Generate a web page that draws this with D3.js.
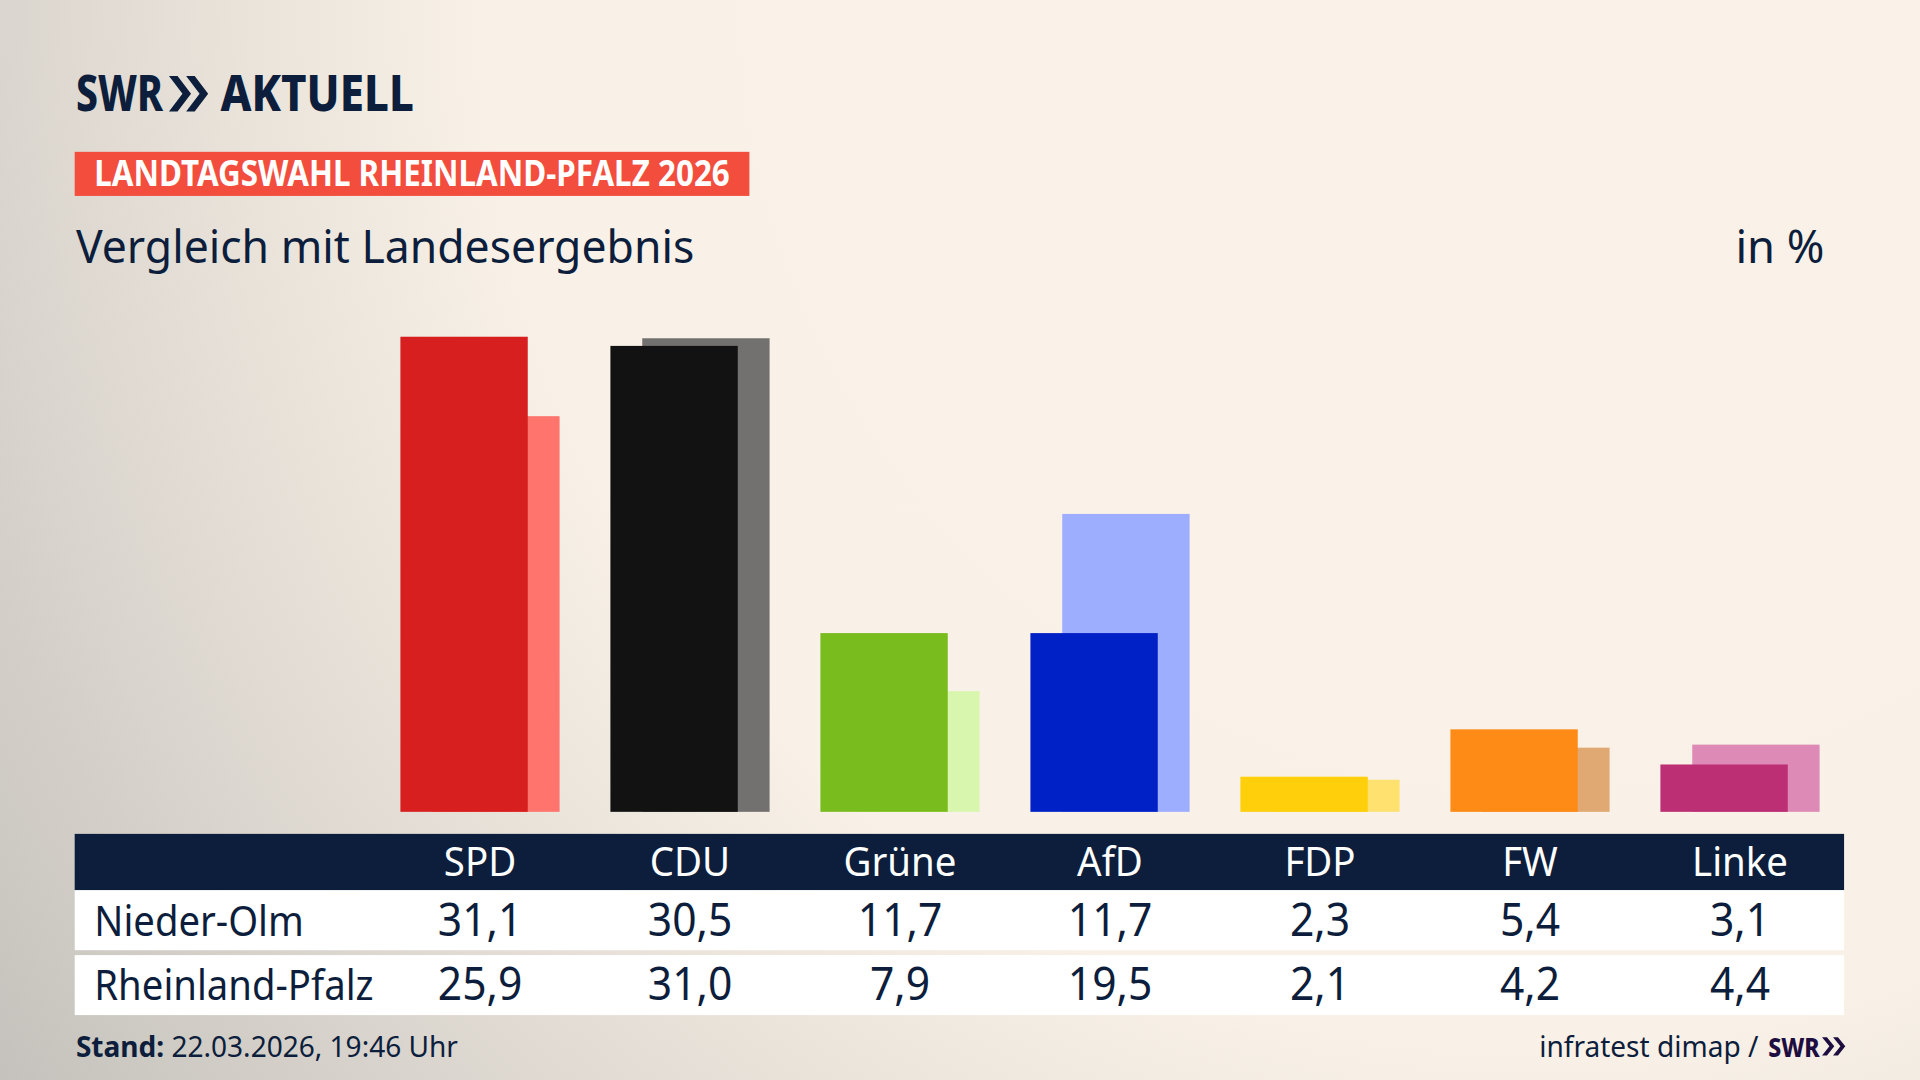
<!DOCTYPE html>
<html>
<head>
<meta charset="utf-8">
<script src="https://cdn.jsdelivr.net/npm/d3@7"></script>
<style>
  html, body { margin: 0; padding: 0; background: #f7efe5; }
  svg { display: block; }
  text { font-family: "Noto Sans", "Open Sans", sans-serif; }
</style>
</head>
<body>
<script>
// values from the graphic (Landtagswahl RLP 2026, Nieder-Olm vs. Land)
var parties = ["SPD", "CDU", "Grüne", "AfD", "FDP", "FW", "Linke"];
var niederOlm = [31.1, 30.5, 11.7, 11.7, 2.3, 5.4, 3.1];
var landRLP = [25.9, 31.0, 7.9, 19.5, 2.1, 4.2, 4.4];
var rowLabels = ["Nieder-Olm", "Rheinland-Pfalz"];
var mainColors = ["#d71f1f", "#121212", "#79bc1d", "#0021c6", "#ffcf0b", "#ff8b17", "#bc2f74"];
var lightColors = ["#ff756e", "#72716f", "#d8f6ae", "#9dadff", "#ffe170", "#e0a974", "#de8ab6"];

var navy = "#0c1e3c";
var W = 1568, H = 882;   // drawing units, scaled to the 1920x1080 window

var svg = d3.select("body").append("svg")
  .attr("width", 1920).attr("height", 1080)
  .attr("viewBox", "0 0 " + W + " " + H);

// background
var defs = svg.append("defs");
var grad = defs.append("radialGradient")
  .attr("id", "bg").attr("gradientUnits", "userSpaceOnUse")
  .attr("cx", 1250).attr("cy", 0).attr("r", 1550);
grad.append("stop").attr("offset", 0).attr("stop-color", "#faf2e8");
grad.append("stop").attr("offset", 0.55).attr("stop-color", "#f9f1e7");
grad.append("stop").attr("offset", 1).attr("stop-color", "#c3c0bb");
svg.append("rect").attr("width", W).attr("height", H).attr("fill", "url(#bg)");

var fmt = d3.formatLocale({decimal: ",", thousands: ".", grouping: [3], currency: ["", "€"]}).format(".1f");

// text helper: horizontally condensed real text
function label(g, x, y, str, size, opts) {
  opts = opts || {};
  var sx = opts.sx || 0.88;
  return g.append("text")
    .attr("transform", "translate(" + x + "," + y + ") scale(" + sx + ",1)")
    .attr("text-anchor", opts.anchor || "start")
    .attr("font-size", size)
    .attr("font-weight", opts.weight || 400)
    .attr("fill", opts.fill || navy)
    .text(str);
}

function chevrons(g, x0, y0, h, w, t, fill) {
  [0, w + 3].forEach(function (dx) {
    var x = x0 + dx;
    g.append("path")
      .attr("d", "M" + x + "," + y0 + "L" + (x + t) + "," + y0 + "L" + (x + t + w) + "," + (y0 + h / 2) +
        "L" + (x + t) + "," + (y0 + h) + "L" + x + "," + (y0 + h) + "L" + (x + w) + "," + (y0 + h / 2) + "Z")
      .attr("fill", fill);
  });
}

// header
var head = svg.append("g");
head.append("text").attr("x", 62).attr("y", 91).attr("font-size", 41).attr("font-weight", 800)
  .attr("fill", navy).attr("textLength", 71).attr("lengthAdjust", "spacingAndGlyphs").text("SWR");
chevrons(head, 138, 62, 29, 11, 7, navy);
head.append("text").attr("x", 180).attr("y", 91).attr("font-size", 41).attr("font-weight", 800)
  .attr("fill", navy).attr("textLength", 158).attr("lengthAdjust", "spacingAndGlyphs").text("AKTUELL");

head.append("rect").attr("x", 61).attr("y", 124).attr("width", 551).attr("height", 36).attr("fill", "#f24d3d");
head.append("text").attr("x", 77).attr("y", 152).attr("font-size", 29).attr("font-weight", 700)
  .attr("fill", "#ffffff").attr("textLength", 519).attr("lengthAdjust", "spacingAndGlyphs")
  .text("LANDTAGSWAHL RHEINLAND-PFALZ 2026");

head.append("text").attr("x", 62).attr("y", 215).attr("font-size", 37)
  .attr("fill", navy).attr("textLength", 505).attr("lengthAdjust", "spacingAndGlyphs")
  .text("Vergleich mit Landesergebnis");
head.append("text").attr("x", 1490).attr("y", 215).attr("font-size", 37).attr("text-anchor", "end")
  .attr("fill", navy).text("in %");

// scales
var x = d3.scaleBand().domain(parties).range([306.25, 1506.75]).padding(0);
var y = d3.scaleLinear().domain([0, 31.1]).range([663, 275]);
var barW = 104, shift = 26;
function cx(p) { return x(p) + x.bandwidth() / 2; }

var rows = parties.map(function (p, i) {
  return {party: p, local: niederOlm[i], land: landRLP[i], c: mainColors[i], lc: lightColors[i]};
});

var bars = svg.append("g");
bars.selectAll("rect.land").data(rows).join("rect").attr("class", "land")
  .attr("x", function (d) { return cx(d.party) - barW / 2 + shift / 2; })
  .attr("y", function (d) { return y(d.land); })
  .attr("width", barW)
  .attr("height", function (d) { return y(0) - y(d.land); })
  .attr("fill", function (d) { return d.lc; });
bars.selectAll("rect.local").data(rows).join("rect").attr("class", "local")
  .attr("x", function (d) { return cx(d.party) - barW / 2 - shift / 2; })
  .attr("y", function (d) { return y(d.local); })
  .attr("width", barW)
  .attr("height", function (d) { return y(0) - y(d.local); })
  .attr("fill", function (d) { return d.c; });

// table
var tbl = svg.append("g");
tbl.append("rect").attr("x", 61).attr("y", 681).attr("width", 1445).attr("height", 46).attr("fill", navy);
tbl.append("rect").attr("x", 61).attr("y", 727).attr("width", 1445).attr("height", 49).attr("fill", "#ffffff");
tbl.append("rect").attr("x", 61).attr("y", 780).attr("width", 1445).attr("height", 49).attr("fill", "#ffffff");

parties.forEach(function (p) {
  label(tbl, cx(p), 715, p, 32, {anchor: "middle", fill: "#ffffff", sx: 0.98});
});
var series = [niederOlm, landRLP];
var baselines = [764, 817];
series.forEach(function (vals, r) {
  label(tbl, 77, baselines[r], rowLabels[r], 34, {sx: 0.92});
  vals.forEach(function (v, i) {
    label(tbl, cx(parties[i]), baselines[r], fmt(v), 37, {anchor: "middle", sx: 0.94});
  });
});

// footer
var foot = svg.append("g");
var st = foot.append("text").attr("x", 62).attr("y", 863).attr("font-size", 23).attr("fill", navy)
  .attr("textLength", 312).attr("lengthAdjust", "spacingAndGlyphs");
st.append("tspan").attr("font-weight", 700).text("Stand:");
st.append("tspan").text(" 22.03.2026, 19:46 Uhr");

foot.append("text").attr("x", 1436).attr("y", 863).attr("font-size", 23).attr("fill", navy)
  .attr("text-anchor", "end").attr("textLength", 179).attr("lengthAdjust", "spacingAndGlyphs")
  .text("infratest dimap /");
foot.append("text").attr("x", 1444).attr("y", 863).attr("font-size", 22).attr("font-weight", 800)
  .attr("fill", "#1e0d40").attr("textLength", 42).attr("lengthAdjust", "spacingAndGlyphs").text("SWR");
chevrons(foot, 1488, 847, 15, 6, 4, "#1e0d40");
</script>
</body>
</html>
